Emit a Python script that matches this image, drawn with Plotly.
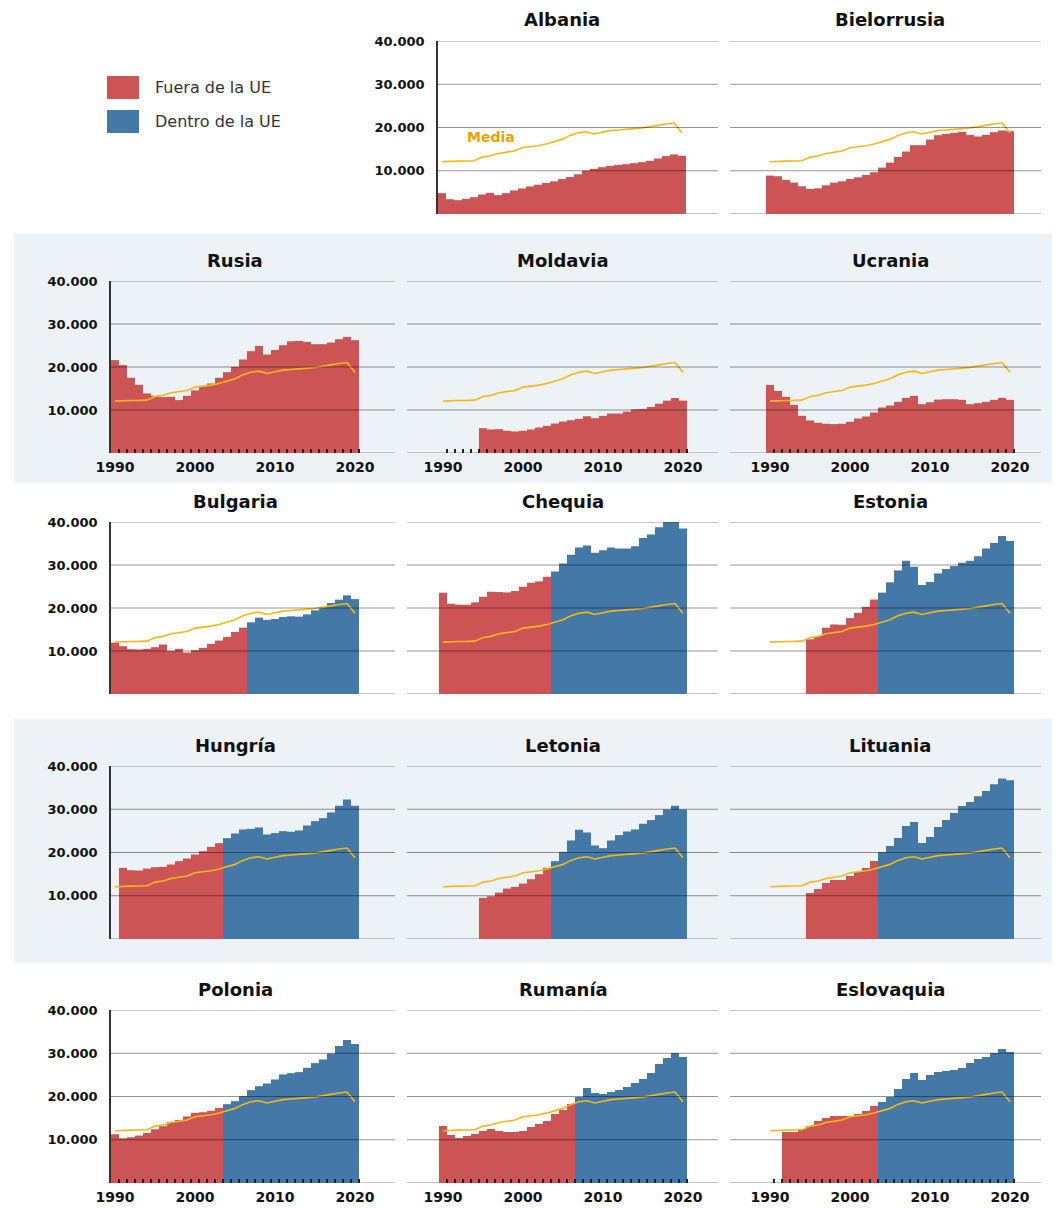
import plotly.graph_objects as go

###DATA###
anios = list(range(1990, 2021))

# Media (misma serie en todos los paneles), 1990-2020
media = [12070, 12200, 12220, 12240, 12300, 13150, 13400, 14000, 14230, 14550,
         15320, 15470, 15780, 16170, 16710, 17250, 18180, 18800, 19030, 18490,
         18880, 19270, 19420, 19500, 19730, 19880, 20120, 20500, 20810, 21040, 18800]

albania = [4820, 3420, 3190, 3500, 3890, 4510, 4900, 4360, 4820, 5450, 5910, 6380, 6770,
           7160, 7550, 8090, 8560, 9180, 10040, 10430, 10820, 11130, 11360, 11520, 11750,
           11980, 12300, 12840, 13380, 13770, 13460]
bielorrusia = [8880, 8730, 7880, 7260, 6410, 5790, 5950, 6640, 7260, 7570, 8110, 8490, 9030,
               9650, 10730, 11890, 13200, 14440, 15910, 15910, 17220, 18220, 18530, 18760,
               19000, 18300, 17920, 18300, 18920, 19310, 19150]
rusia = [21590, 20430, 17490, 15860, 13850, 13310, 13000, 13080, 12300, 13310, 14550, 15470,
         16170, 17490, 18800, 20040, 21740, 23680, 24910, 22900, 23980, 25070, 25990, 26070,
         25840, 25300, 25300, 25690, 26460, 27000, 26230]
moldavia = [5780, 5470, 5550, 5160, 5010, 5160, 5470, 5930, 6320, 6860, 7320, 7630, 7940,
            8550, 8090, 8630, 9170, 9170, 9630, 10170, 10250, 10710, 11480, 12180, 12790, 12180]
ucrania = [15830, 14440, 13050, 11200, 8650, 7570, 7030, 6800, 6720, 6800, 7260, 8030, 8490,
           9420, 10580, 11040, 11890, 12820, 13280, 11350, 11810, 12430, 12510, 12510, 12360,
           11350, 11580, 11890, 12360, 12820, 12360]
bulgaria = [11970, 11120, 10420, 10350, 10500, 10890, 11510, 10040, 10500, 9650, 10190, 10730,
            11660, 12430, 13280, 14440, 15440, 16680, 17760, 17220, 17450, 17920, 18070, 17990,
            18530, 19460, 20150, 21160, 21930, 22930, 22080]
chequia = [23550, 21000, 20770, 20770, 21310, 22630, 23780, 23710, 23630, 23940, 24940, 25870,
           26180, 27260, 28490, 30350, 32360, 34050, 34520, 32820, 33440, 34050, 33820, 33820,
           34360, 36290, 37070, 38760, 40000, 40700, 38460]
estonia = [12720, 13490, 15420, 16180, 16110, 17650, 18880, 20270, 21970, 23580, 25970, 28750,
           30980, 29590, 25360, 26050, 28050, 29060, 29750, 30520, 30980, 32060, 33830, 35140,
           36760, 35610]
hungria = [16450, 15910, 15830, 16290, 16600, 16680, 17220, 17990, 18610, 19540, 20310, 21310,
           22160, 23320, 24400, 25330, 25480, 25790, 24170, 24480, 24940, 24790, 25100, 26250,
           27260, 27950, 29270, 30810, 32280, 30810]
letonia = [9500, 9880, 10730, 11660, 12050, 12820, 13820, 14980, 16450, 17990, 20150, 22780,
           25250, 24630, 21620, 21000, 22780, 24020, 24860, 25330, 26640, 27490, 28650, 29960,
           30810, 29960]
lituania = [10640, 11560, 12950, 13640, 13640, 14570, 15490, 16420, 18030, 20100, 21500, 23350,
            26130, 27050, 22200, 23580, 25900, 27510, 29130, 30750, 31680, 33000, 34200, 35800,
            37100, 36700]
polonia = [11270, 10350, 10580, 10970, 11580, 12430, 13130, 14050, 14590, 15370, 16220, 16370,
           16680, 17370, 18220, 18920, 20080, 21470, 22390, 23010, 23940, 25100, 25410, 25640,
           26640, 27720, 28570, 29960, 31660, 33050, 32120]
rumania = [13180, 11100, 10400, 10870, 11330, 12020, 12490, 12020, 11790, 11790, 12020, 12950,
           13640, 14340, 15950, 16880, 18270, 19880, 21970, 20800, 20580, 21040, 21500, 22200,
           23120, 24050, 25430, 27510, 28900, 30060, 29130]
eslovaquia = [11790, 11790, 12490, 13180, 14340, 15030, 15490, 15490, 15490, 15950, 16650,
              17800, 18730, 19880, 21730, 24050, 25430, 23820, 24970, 25660, 25900, 26130,
              26590, 27750, 28670, 29130, 30060, 30980, 30290]

# nombre, serie, primer año, año de entrada en la UE, fila, columna
paneles = [
    ("Albania", albania, 1990, None, 0, 1),
    ("Bielorrusia", bielorrusia, 1990, None, 0, 2),
    ("Rusia", rusia, 1990, None, 1, 0),
    ("Moldavia", moldavia, 1995, None, 1, 1),
    ("Ucrania", ucrania, 1990, None, 1, 2),
    ("Bulgaria", bulgaria, 1990, 2007, 2, 0),
    ("Chequia", chequia, 1990, 2004, 2, 1),
    ("Estonia", estonia, 1995, 2004, 2, 2),
    ("Hungría", hungria, 1991, 2004, 3, 0),
    ("Letonia", letonia, 1995, 2004, 3, 1),
    ("Lituania", lituania, 1995, 2004, 3, 2),
    ("Polonia", polonia, 1990, 2004, 4, 0),
    ("Rumanía", rumania, 1990, 2007, 4, 1),
    ("Eslovaquia", eslovaquia, 1992, 2004, 4, 2),
]

###STYLE###
# the page puts the plot 8px in from the top-left corner
OFF = 8
W, H = 1060 - OFF, 1208 - OFF
FONT = "DejaVu Sans"
ROJO = "#cd5454"
AZUL = "#4479a7"
ORO = "#f7b716"
BANDA = "#edf2f7"


def px_x(x):
    return (x - OFF) / W


def px_y(y):
    return 1 - (y - OFF) / H


# page px geometry: (left, right, x of 1989.5)
columnas = {0: (111, 395, 111), 1: (407, 718, 439), 2: (730, 1041, 766)}
filas = [(41, 214), (281, 453), (522, 694), (766, 939), (1010, 1183)]
PX_ANIO = 8.0

fig = go.Figure()
shapes = []
annotations = []

# background bands on rows 2 and 4
for top, bottom in [(234, 483), (719, 963)]:
    shapes.append(dict(type="rect", xref="paper", yref="paper", x0=px_x(14), x1=1,
                       y0=px_y(bottom), y1=px_y(top), fillcolor=BANDA,
                       line_width=0, layer="below"))

for i, (nombre, serie, inicio, ue, fila, col) in enumerate(paneles):
    sx = "" if i == 0 else str(i + 1)
    xa, ya = "x" + sx, "y" + sx
    xs = list(range(inicio, inicio + len(serie)))

    fuera = [(a, v) for a, v in zip(xs, serie) if ue is None or a < ue]
    dentro = [(a, v) for a, v in zip(xs, serie) if ue is not None and a >= ue]

    fig.add_trace(go.Bar(x=[a for a, _ in fuera], y=[v for _, v in fuera], width=1,
                         marker_color=ROJO, marker_line_width=0, cliponaxis=False,
                         xaxis=xa, yaxis=ya, name="Fuera de la UE", showlegend=False))
    if dentro:
        fig.add_trace(go.Bar(x=[a for a, _ in dentro], y=[v for _, v in dentro], width=1,
                             marker_color=AZUL, marker_line_width=0, cliponaxis=False,
                             xaxis=xa, yaxis=ya, name="Dentro de la UE", showlegend=False))
    fig.add_trace(go.Scatter(x=anios, y=media, mode="lines", line=dict(color=ORO, width=1.6),
                             xaxis=xa, yaxis=ya, name="Media", showlegend=False))

    left, right, x0 = columnas[col]
    if fila == 0 and col == 1:
        left = 438
        x0 = 438
    rng = [1989.5 - (x0 - left) / PX_ANIO, 1989.5 + (right - x0) / PX_ANIO]
    top, bottom = filas[fila]
    etiquetas_x = fila in (1, 4)
    etiquetas_y = col == 0 or (fila == 0 and col == 1)

    xaxis = dict(domain=[px_x(left), px_x(right)], range=rng, anchor=ya, showgrid=False,
                 zeroline=False, showline=False, fixedrange=True, layer="above traces",
                 tickvals=[1990, 2000, 2010, 2020], ticks="",
                 showticklabels=etiquetas_x, ticklabelstandoff=4,
                 tickfont=dict(family=FONT, size=14, color="#111", weight="bold"))
    if etiquetas_x:
        xaxis["minor"] = dict(tickmode="array", tickvals=[a + 0.5 for a in anios],
                              ticks="inside", ticklen=4, tickwidth=1.5, tickcolor="#222",
                              showgrid=False)
    yaxis = dict(domain=[px_y(bottom), px_y(top)], range=[0, 40000], anchor=xa,
                 showgrid=False, zeroline=False, fixedrange=True,
                 tickvals=[10000, 20000, 30000, 40000],
                 ticktext=["10.000", "20.000", "30.000", "40.000"],
                 showticklabels=etiquetas_y, ticks="", ticklabelstandoff=9,
                 showline=etiquetas_y, linecolor="#333", linewidth=1.5,
                 tickfont=dict(family=FONT, size=13, color="#111", weight="bold"))
    fig.layout["xaxis" + sx] = xaxis
    fig.layout["yaxis" + sx] = yaxis

    # grid drawn over the bars, baseline under them
    shapes.append(dict(type="line", xref=xa + " domain", yref=ya, x0=0, x1=1, y0=0, y1=0,
                       line=dict(color="#c2c2c2", width=2), layer="below"))
    for v in [10000, 20000, 30000, 40000]:
        shapes.append(dict(type="line", xref=xa + " domain", yref=ya, x0=0, x1=1, y0=v, y1=v,
                           line=dict(color="rgba(0,0,0,0.42)", width=1), layer="above"))

    annotations.append(dict(text=f"<b>{nombre}</b>", xref=xa, x=2005, yref=ya + " domain",
                            y=1, yshift=21, showarrow=False, yanchor="middle",
                            font=dict(family=FONT, size=18, color="#111")))

annotations.append(dict(text="<b>Media</b>", xref="x", yref="y", x=1996.1, y=17700,
                        showarrow=False, font=dict(family=FONT, size=14, color="#e8a500")))

# legend
for (y0, y1), color, texto in [((76, 99), ROJO, "Fuera de la UE"),
                               ((110, 133), AZUL, "Dentro de la UE")]:
    shapes.append(dict(type="rect", xref="paper", yref="paper", x0=px_x(107), x1=px_x(139),
                       y0=px_y(y1), y1=px_y(y0), fillcolor=color, line_width=0))
    annotations.append(dict(text=texto, xref="paper", yref="paper", x=px_x(153),
                            y=px_y((y0 + y1) / 2), xanchor="left", yanchor="middle",
                            showarrow=False, font=dict(family=FONT, size=16, color="#333")))

fig.update_layout(
    width=W, height=H,
    margin=dict(l=0, r=0, t=0, b=0),
    template="none",
    paper_bgcolor="white",
    plot_bgcolor="rgba(0,0,0,0)",
    barmode="overlay",
    showlegend=False,
    shapes=shapes,
    annotations=annotations,
    font=dict(family=FONT),
)

fig.write_html("out.html")
